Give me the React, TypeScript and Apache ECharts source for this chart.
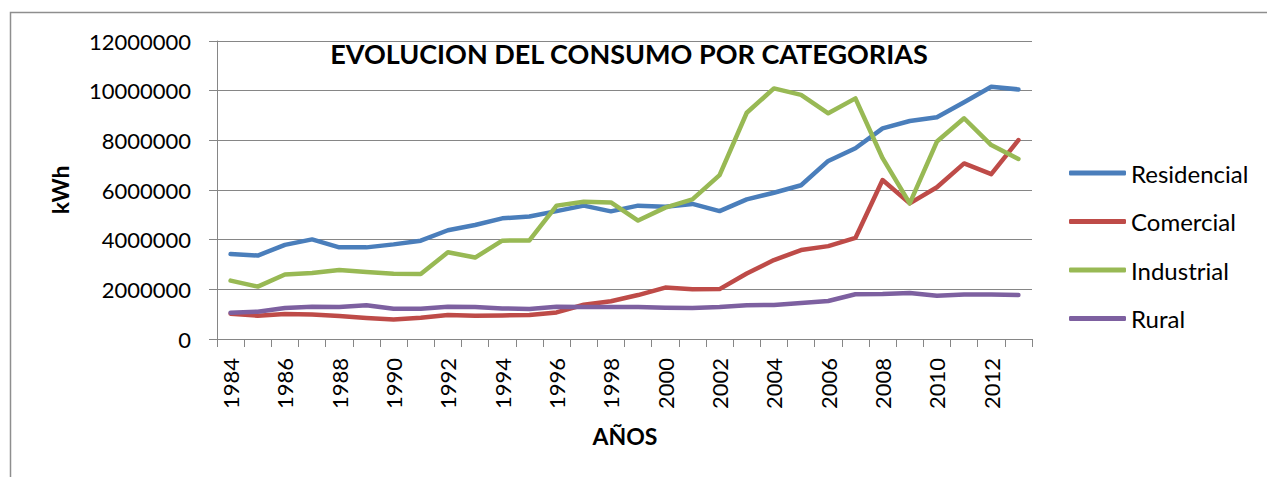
import React, { useEffect, useRef } from "react";
import * as echarts from "echarts";

const years: string[] = [
  "1984","1985","1986","1987","1988","1989","1990","1991","1992","1993",
  "1994","1995","1996","1997","1998","1999","2000","2001","2002","2003",
  "2004","2005","2006","2007","2008","2009","2010","2011","2012","2013",
];

const residencial: number[] = [
  3420000, 3360000, 3790000, 4010000, 3690000, 3690000, 3810000, 3960000, 4380000, 4590000,
  4860000, 4930000, 5150000, 5370000, 5140000, 5370000, 5330000, 5440000, 5150000, 5620000,
  5890000, 6190000, 7170000, 7680000, 8480000, 8780000, 8930000, 9530000, 10160000, 10050000,
];

const comercial: number[] = [
  1020000, 940000, 1010000, 990000, 930000, 850000, 790000, 860000, 970000, 940000,
  950000, 970000, 1070000, 1380000, 1520000, 1770000, 2070000, 2000000, 2010000, 2640000,
  3180000, 3580000, 3740000, 4070000, 6400000, 5460000, 6110000, 7070000, 6640000, 8010000,
];

const industrial: number[] = [
  2350000, 2110000, 2600000, 2660000, 2780000, 2700000, 2630000, 2620000, 3490000, 3280000,
  3960000, 3970000, 5370000, 5530000, 5500000, 4770000, 5290000, 5620000, 6600000, 9110000,
  10090000, 9830000, 9090000, 9690000, 7280000, 5460000, 7950000, 8890000, 7810000, 7250000,
];

const rural: number[] = [
  1060000, 1100000, 1250000, 1300000, 1290000, 1360000, 1220000, 1220000, 1300000, 1290000,
  1230000, 1210000, 1300000, 1290000, 1290000, 1290000, 1260000, 1250000, 1290000, 1360000,
  1370000, 1450000, 1530000, 1800000, 1810000, 1850000, 1740000, 1790000, 1790000, 1770000,
];

const seriesNames: string[] = ["Residencial", "Comercial", "Industrial", "Rural"];
const seriesColors: string[] = ["#4A7EBB", "#BE4B48", "#98B954", "#7D60A0"];

const FONT = "Lato, 'Noto Sans', sans-serif";

export default function App() {
  const ref = useRef<HTMLDivElement>(null);

  useEffect(() => {
    document.body.style.margin = "0";
    if (!ref.current) return;
    const chart = echarts.init(ref.current, undefined, { renderer: "svg" });
    const data = [residencial, comercial, industrial, rural];
    chart.setOption({
      animation: false,
      backgroundColor: "#ffffff",
      textStyle: { fontFamily: FONT },
      grid: { left: 217, right: 235, top: 41, bottom: 138, containLabel: false },
      xAxis: {
        type: "category",
        data: years,
        boundaryGap: true,
        axisLine: { lineStyle: { color: "#868686", width: 1 } },
        axisTick: { show: true, interval: 0, length: 8, lineStyle: { color: "#868686" } },
        axisLabel: {
          interval: 1,
          rotate: 90,
          margin: 19,
          color: "#000",
          fontSize: 22,
          fontFamily: FONT,
        },
        splitLine: { show: false },
      },
      yAxis: {
        type: "value",
        min: 0,
        max: 12000000,
        interval: 2000000,
        axisLine: { show: true, lineStyle: { color: "#868686", width: 1 } },
        axisTick: { show: true, length: 8, lineStyle: { color: "#868686" } },
        axisLabel: {
          margin: 26,
          color: "#000",
          fontSize: 22,
          fontFamily: FONT,
          formatter: (v: number) => String(v),
        },
        splitLine: { show: true, lineStyle: { color: "#868686", width: 1 } },
      },
      legend: {
        orient: "vertical",
        left: 1064,
        top: 155,
        icon: "roundRect",
        itemWidth: 57,
        itemHeight: 5,
        itemGap: 22.5,
        data: seriesNames,
        textStyle: { color: "#000", fontSize: 24, lineHeight: 26, fontFamily: FONT },
      },
      graphic: [
        {
          type: "rect",
          shape: { x: 10.5, y: 12.5, width: 1400, height: 600 },
          style: { fill: "none", stroke: "#8e8e8e", lineWidth: 1.5 },
          silent: true,
          z: -10,
        },
        {
          type: "text",
          x: 629,
          y: 53,
          style: {
            text: "EVOLUCION DEL CONSUMO POR CATEGORIAS",
            fill: "#000",
            font: `bold 27px ${FONT}`,
            textAlign: "center",
            textVerticalAlign: "middle",
          },
        },
        {
          type: "text",
          x: 60,
          y: 190,
          rotation: Math.PI / 2,
          style: {
            text: "kWh",
            fill: "#000",
            font: `bold 23px ${FONT}`,
            textAlign: "center",
            textVerticalAlign: "middle",
          },
        },
        {
          type: "text",
          x: 625,
          y: 436,
          style: {
            text: "AÑOS",
            fill: "#000",
            font: `bold 23px ${FONT}`,
            textAlign: "center",
            textVerticalAlign: "middle",
          },
        },
      ],
      series: seriesNames.map((name, i) => ({
        name,
        type: "line",
        data: data[i],
        symbol: "none",
        smooth: false,
        color: seriesColors[i],
        lineStyle: { width: 4.5, color: seriesColors[i], cap: "round", join: "round" },
      })),
    });
    return () => chart.dispose();
  }, []);

  return <div ref={ref} style={{ width: 1267, height: 477 }} />;
}
